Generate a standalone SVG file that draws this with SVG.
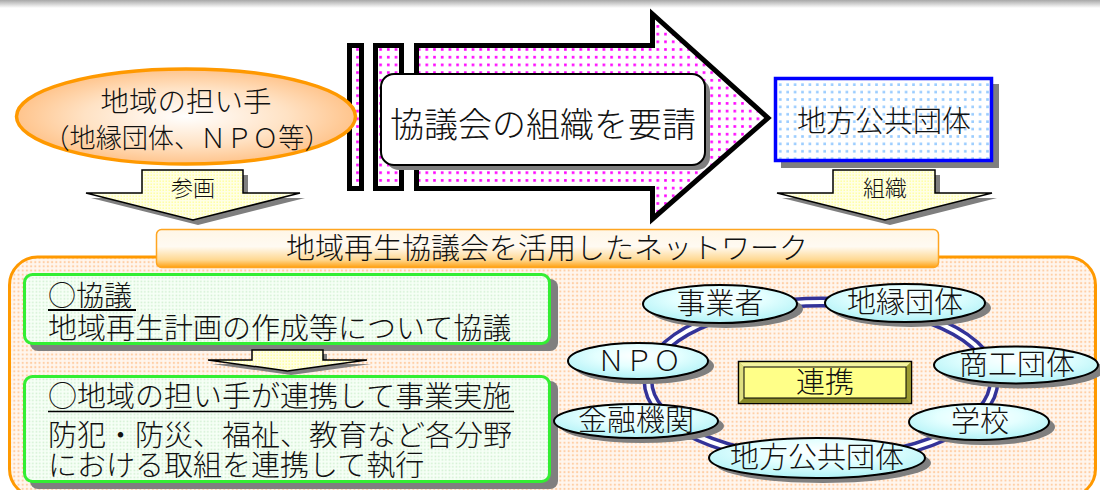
<svg xmlns="http://www.w3.org/2000/svg" width="1100" height="490" viewBox="0 0 1100 490">
<style>
text{font-family:'Noto Sans CJK JP','Noto Sans CJK SC',sans-serif;font-weight:300;fill:#111;}
.t29{font-size:29px;}
.t28{font-size:28px;}
.t22{font-size:22px;}
.mid{text-anchor:middle;}
.shadow{fill:#7f7f7f;}
.ring-out{fill:none;stroke:#333399;stroke-width:11;}
.ring-in{fill:none;stroke:#ffffff;stroke-width:4;}
.net{fill:url(#cyanGrad);stroke:#000;stroke-width:2;}
.down{fill:url(#yellowDots);stroke:#000;stroke-width:1.5;stroke-linejoin:miter;}
.green{fill:url(#greenDots);stroke:#33ee33;stroke-width:3;}
.bar{fill:url(#pinkDots);stroke:#000;stroke-width:5;}
</style>
<defs>
<linearGradient id="topGrad" x1="0" y1="0" x2="0" y2="1">
<stop offset="0" stop-color="#a8a8a8"/><stop offset="1" stop-color="#ffffff"/>
</linearGradient>
<radialGradient id="orangeGrad" cx="0.5" cy="0.5" r="0.5">
<stop offset="0" stop-color="#ffffff"/><stop offset="0.6" stop-color="#ffe2c4"/><stop offset="1" stop-color="#ffc48c"/>
</radialGradient>
<radialGradient id="cyanGrad" cx="0.5" cy="0.35" r="0.6">
<stop offset="0" stop-color="#ffffff"/><stop offset="0.5" stop-color="#e4ffff"/><stop offset="1" stop-color="#b8f4f8"/>
</radialGradient>
<linearGradient id="bannerGrad" x1="0" y1="0" x2="0" y2="1">
<stop offset="0" stop-color="#fff6e6"/><stop offset="0.45" stop-color="#fffaf2"/><stop offset="0.8" stop-color="#ffd890"/><stop offset="1" stop-color="#ffa010"/>
</linearGradient>
<pattern id="pinkDots" patternUnits="userSpaceOnUse" width="7.7" height="7.7">
<rect width="7.7" height="7.7" fill="#ffffff"/><rect x="2" y="2" width="2.6" height="2.6" fill="#ff00ff"/>
</pattern>
<pattern id="blueDots" patternUnits="userSpaceOnUse" width="7.4" height="7.4">
<rect width="7.4" height="7.4" fill="#ffffff"/><rect x="2" y="2" width="2.6" height="2.6" fill="#99ccff"/>
</pattern>
<pattern id="yellowDots" patternUnits="userSpaceOnUse" width="3" height="3">
<rect width="3" height="3" fill="#ffffe6"/><rect x="0.5" y="0.5" width="1.4" height="1.4" fill="#ffff99"/>
</pattern>
<pattern id="greenDots" patternUnits="userSpaceOnUse" width="3.5" height="3.5">
<rect width="3.5" height="3.5" fill="#f6fff6"/><rect x="0.6" y="0.6" width="1.5" height="1.5" fill="#cdeecd"/>
</pattern>
<pattern id="orangeDots" patternUnits="userSpaceOnUse" width="4.2" height="4.2">
<rect width="4.2" height="4.2" fill="#fff6ee"/><rect x="0.7" y="0.7" width="2" height="2" fill="#ffcfa6"/>
</pattern>
</defs>

<rect x="0" y="0" width="1100" height="490" fill="#ffffff"/>
<rect x="0" y="0" width="1100" height="8" fill="url(#topGrad)"/>

<!-- request arrow -->
<g id="request-arrow">
<rect class="bar" x="349.5" y="45.5" width="12" height="143"/>
<rect class="bar" x="375.5" y="45.5" width="26" height="143"/>
<path class="bar" d="M416.5,45.5 H652.5 V14 L768,118 L652.5,219 V188.5 H416.5 Z"/>
<rect class="shadow" x="386" y="79" width="324" height="91" rx="13"/>
<rect x="381" y="74" width="324" height="91" rx="13" fill="#ffffff" stroke="#000" stroke-width="2"/>
<text class="mid" x="543" y="137" font-size="34">協議会の組織を要請</text>
</g>

<!-- local actors ellipse -->
<g id="local-actors">
<ellipse cx="186" cy="116.5" rx="169.5" ry="47.5" fill="url(#orangeGrad)" stroke="#ff9900" stroke-width="3.5"/>
<text class="mid" x="186" y="112" font-size="28.5">地域の担い手</text>
<text class="mid" x="187" y="148" font-size="27.5" textLength="287" lengthAdjust="spacingAndGlyphs">（地縁団体、ＮＰＯ等）</text>
</g>

<!-- local government box -->
<g id="local-government">
<rect class="shadow" x="781" y="84" width="218" height="84"/>
<rect x="775.5" y="78.5" width="216" height="82" fill="url(#blueDots)" stroke="#0000ff" stroke-width="3.5"/>
<text class="mid t29" x="884" y="132">地方公共団体</text>
</g>

<!-- down arrows -->
<g id="participate-arrow">
<path class="shadow" d="M147,175 H248 V198 H305 L198,225 L91,198 H147 Z"/>
<path class="down" d="M142,170 H243 V193 H300 L193,220 L86,193 H142 Z"/>
<text class="mid t22" x="193" y="196">参画</text>
</g>
<g id="organize-arrow">
<path class="shadow" d="M838,175 H940 V198 H997 L890,225 L782,198 H838 Z"/>
<path class="down" d="M833,170 H935 V193 H992 L885,220 L777,193 H833 Z"/>
<text class="mid t22" x="885" y="196">組織</text>
</g>

<!-- network area -->
<g id="network-area">
<rect x="9.5" y="257" width="1086" height="240" rx="28" fill="url(#orangeDots)" stroke="#ff9900" stroke-width="3"/>
</g>

<g id="network-banner">
<rect x="156.5" y="229.5" width="782" height="38" rx="5" fill="url(#bannerGrad)" stroke="#ffa520" stroke-width="1.5"/>
<text class="mid t29" x="547" y="259">地域再生協議会を活用したネットワーク</text>
</g>

<!-- green boxes -->
<g id="consultation-box">
<rect class="shadow" x="30" y="279" width="528" height="72" rx="8"/>
<rect class="green" x="24.5" y="274.5" width="525" height="69" rx="8"/>
<text class="t28" x="48" y="306">○協議</text>
<text class="t29" x="48" y="339">地域再生計画の作成等について協議</text>
</g>

<g id="step-arrow">
<path class="shadow" d="M256,354 H327 V364 H371 L291,375 L212,364 H256 Z"/>
<path class="down" d="M252,350 H323 V360 H367 L287.5,371 L208,360 H252 Z"/>
</g>

<g id="implementation-box">
<rect class="shadow" x="30" y="381" width="528" height="108" rx="8"/>
<rect class="green" x="24.5" y="376.5" width="525" height="105" rx="8"/>
<text class="t29" x="48" y="407">○地域の担い手が連携して事業実施</text>
<text class="t29" x="48" y="446">防犯・防災、福祉、教育など各分野</text>
<text class="t29" x="48" y="476">における取組を連携して執行</text>
</g>

<g id="underlines" stroke="#000">
<line x1="48" y1="310" x2="136" y2="310" stroke-width="2"/>
<line x1="48" y1="411.5" x2="514" y2="411.5" stroke-width="1.5"/>
</g>

<!-- connectors: double ring -->
<g id="connectors">
<ellipse class="ring-out" cx="821" cy="381" rx="173" ry="79"/>
<ellipse class="ring-in" cx="821" cy="381" rx="173" ry="79"/>
</g>

<g id="node-cooperation">
<rect x="738.5" y="361.5" width="173" height="42" fill="#bbbb44" stroke="#000" stroke-width="1.5"/>
<polygon points="739.5,362.5 910.5,362.5 906,367 744,367" fill="#f4f4a0"/>
<polygon points="739.5,362.5 744,367 744,398 739.5,402.5" fill="#e0e080"/>
<polygon points="910.5,362.5 910.5,402.5 906,398 906,367" fill="#9a9a30"/>
<polygon points="739.5,402.5 744,398 906,398 910.5,402.5" fill="#8a8a28"/>
<rect x="744" y="367" width="162" height="31" fill="#ffff88" stroke="#000" stroke-width="1"/>
<text class="mid t29" x="825" y="393">連携</text>
</g>

<g id="node-business">
<ellipse class="shadow" cx="726" cy="309" rx="77" ry="19"/>
<ellipse class="net" cx="720" cy="304" rx="77" ry="19"/>
<text class="mid t29" x="720" y="314">事業者</text>
</g>
<g id="node-community">
<ellipse class="shadow" cx="911" cy="308" rx="80" ry="19"/>
<ellipse class="net" cx="905" cy="303" rx="80" ry="19"/>
<text class="mid t29" x="905" y="313">地縁団体</text>
</g>
<g id="node-commerce">
<ellipse class="shadow" cx="1022" cy="370" rx="82" ry="18.5"/>
<ellipse class="net" cx="1016" cy="365" rx="82" ry="18.5"/>
<text class="mid t29" x="1017" y="375">商工団体</text>
</g>
<g id="node-school">
<ellipse class="shadow" cx="985" cy="427" rx="70" ry="18"/>
<ellipse class="net" cx="979" cy="422" rx="70" ry="18"/>
<text class="mid t29" x="980" y="432">学校</text>
</g>
<g id="node-localgov">
<ellipse class="shadow" cx="823" cy="463" rx="108" ry="20"/>
<ellipse class="net" cx="817" cy="458" rx="108" ry="20"/>
<text class="mid t29" x="817" y="468">地方公共団体</text>
</g>
<g id="node-finance">
<ellipse class="shadow" cx="642" cy="426" rx="82" ry="17"/>
<ellipse class="net" cx="636" cy="421" rx="82" ry="17"/>
<text class="mid t29" x="636" y="431">金融機関</text>
</g>
<g id="node-npo">
<ellipse class="shadow" cx="644" cy="366" rx="70" ry="18"/>
<ellipse class="net" cx="638" cy="361" rx="70" ry="18"/>
<text class="mid t28" x="639" y="371">ＮＰＯ</text>
</g>
</svg>
